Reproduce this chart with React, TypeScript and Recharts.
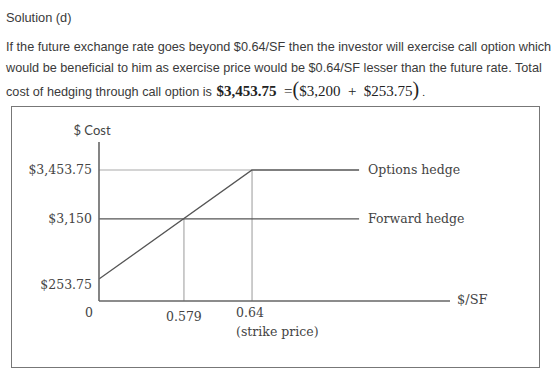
import React from 'react';
import { ComposedChart, Line, XAxis, YAxis, ReferenceLine } from 'recharts';

// exchange rate ($/SF) and cost values
const xTicks = [0, 0.579, 0.64];
const yTicks = [253.75, 3150, 3453.75];
const strikePrice = 0.64;
const breakEven = 0.579;
const premiumCost = 253.75;
const forwardCost = 3150;
const optionsCap = 3453.75;
const optionsX = [0, 0.64, 0.8];
const optionsY = [253.75, 3453.75, 3453.75];
const forwardX = [0, 0.8];
const forwardY = [3150, 3150];

const optionsData = optionsX.map((x, i) => ({ x, y: optionsY[i] }));
const forwardData = forwardX.map((x, i) => ({ x, y: forwardY[i] }));

// the sketch is not drawn to scale, so both axes use a piecewise linear scale
function piecewiseScale(knots: [number, number][]) {
  let dom = [knots[0][0], knots[knots.length - 1][0]];
  let rng = [0, 1];
  const s: any = (v: number) => {
    let f = 0;
    if (v <= knots[0][0]) f = knots[0][1];
    else if (v >= knots[knots.length - 1][0]) f = knots[knots.length - 1][1];
    else {
      for (let i = 1; i < knots.length; i++) {
        const [v0, f0] = knots[i - 1];
        const [v1, f1] = knots[i];
        if (v <= v1) {
          f = f0 + ((v - v0) / (v1 - v0)) * (f1 - f0);
          break;
        }
      }
    }
    return rng[0] + f * (rng[1] - rng[0]);
  };
  s.domain = (d?: number[]) => {
    if (d === undefined) return dom;
    dom = [...d];
    return s;
  };
  s.range = (r?: number[]) => {
    if (r === undefined) return rng;
    rng = [...r];
    return s;
  };
  s.copy = () => piecewiseScale(knots).domain(dom).range(rng);
  s.ticks = () => knots.map((k) => k[0]);
  return s;
}

const xScale = piecewiseScale([[0, 0], [0.579, 0.242], [0.64, 0.436], [0.8, 0.741], [0.9, 1]]);
const yScale = piecewiseScale([[0, 0], [253.75, 0.138], [3150, 0.516], [3453.75, 0.824], [4000, 1]]);

const serif = '"DejaVu Serif", serif';
const ink = '#444';
const axisGrey = '#666';
const guideGrey = '#aaa';

function XTick(props: any) {
  const { x, y, payload } = props;
  const v = payload.value;
  if (v === 0) {
    return (
      <text x={x - 10} y={y + 16} textAnchor="middle" fontFamily={serif} fontSize={12.5} fill={ink}>
        0
      </text>
    );
  }
  if (v === strikePrice) {
    return (
      <g>
        <text x={x - 16} y={y + 16} textAnchor="start" fontFamily={serif} fontSize={12.5} fill={ink}>
          0.64
        </text>
        <text x={x - 16} y={y + 35} textAnchor="start" fontFamily={serif} fontSize={12.5} fill={ink}>
          (strike price)
        </text>
      </g>
    );
  }
  return (
    <text x={x} y={y + 20} textAnchor="middle" fontFamily={serif} fontSize={12.5} fill={ink}>
      {String(v)}
    </text>
  );
}

function YTick(props: any) {
  const { x, y, payload } = props;
  const v = payload.value;
  const label = '$' + v.toLocaleString('en-US', { maximumFractionDigits: 2 });
  const shift = v === premiumCost ? 10 : 4.5;
  return (
    <text x={x - 7} y={y + shift} textAnchor="end" fontFamily={serif} fontSize={12.5} fill={ink}>
      {label}
    </text>
  );
}

const endLabel = (text: string, last: number) => (props: any) => {
  if (props.index !== last) return null;
  return (
    <text x={props.x + 9} y={props.y + 4.5} fontFamily={serif} fontSize={12.5} fill={ink}>
      {text}
    </text>
  );
};

const textStyle: React.CSSProperties = {
  position: 'absolute',
  left: 6,
  whiteSpace: 'nowrap',
  fontFamily: '"Liberation Sans", Arial, sans-serif',
  fontSize: 12.7,
  lineHeight: '20px',
  color: '#3a3a3a',
};

export default function App() {
  return (
    <div style={{ position: 'absolute', left: 0, top: 0, width: 560, height: 384, background: '#fff' }}>
      <div style={{ ...textStyle, top: 8, fontSize: 12.8 }}>Solution (d)</div>
      <div style={{ ...textStyle, top: 37 }}>
        If the future exchange rate goes beyond $0.64/SF then the investor will exercise call option which
      </div>
      <div style={{ ...textStyle, top: 58 }}>
        would be beneficial to him as exercise price would be $0.64/SF lesser than the future rate. Total
      </div>
      <div style={{ ...textStyle, top: 79 }}>
        cost of hedging through call option is{'  '}
        <span style={{ fontFamily: '"Liberation Serif", serif', fontSize: 15, color: '#222', marginLeft: 1 }}>
          <b>$3,453.75</b>&nbsp; =<span style={{ fontSize: 20 }}>(</span>$3,200&nbsp; + &nbsp;$253.75
          <span style={{ fontSize: 20 }}>)</span>
          <span style={{ fontSize: 11, marginLeft: 3 }}>.</span>
        </span>
      </div>
      <div
        style={{
          position: 'absolute',
          left: 11,
          top: 106,
          width: 529,
          height: 262,
          boxSizing: 'border-box',
          border: '1.5px solid #777',
        }}
      />
      <div style={{ position: 'absolute', left: 0, top: 0 }}>
        <ComposedChart width={560} height={384} margin={{ top: 142, right: 110, bottom: 53, left: 0 }}>
          <XAxis
            dataKey="x"
            type="number"
            domain={[0, 0.9]}
            scale={xScale}
            ticks={xTicks}
            interval={0}
            tick={<XTick />}
            tickLine={false}
            tickSize={0}
            tickMargin={0}
            height={30}
            axisLine={{ stroke: axisGrey, strokeWidth: 1.6 }}
            allowDataOverflow
            label={{
              content: (p: any) => (
                <text
                  x={p.viewBox.x + p.viewBox.width + 7}
                  y={p.viewBox.y + 3}
                  fontFamily={serif}
                  fontSize={13}
                  fill={ink}
                >
                  $/SF
                </text>
              ),
            }}
          />
          <YAxis
            type="number"
            domain={[0, 4000]}
            scale={yScale}
            ticks={yTicks}
            interval={0}
            tick={<YTick />}
            tickLine={false}
            tickSize={0}
            tickMargin={0}
            width={99}
            axisLine={{ stroke: axisGrey, strokeWidth: 1.6 }}
            allowDataOverflow
            label={{
              content: (p: any) => (
                <text
                  x={p.viewBox.x + p.viewBox.width - 7}
                  y={p.viewBox.y - 7}
                  textAnchor="middle"
                  fontFamily='Lato, "DejaVu Sans", sans-serif'
                  fontSize={13}
                  fill={ink}
                >
                  $ Cost
                </text>
              ),
            }}
          />
          <ReferenceLine
            segment={[{ x: 0, y: optionsCap }, { x: strikePrice, y: optionsCap }]}
            stroke={guideGrey}
            strokeWidth={1.2}
          />
          <ReferenceLine
            segment={[{ x: breakEven, y: 0 }, { x: breakEven, y: forwardCost }]}
            stroke={guideGrey}
            strokeWidth={1.2}
          />
          <ReferenceLine
            segment={[{ x: strikePrice, y: 0 }, { x: strikePrice, y: optionsCap }]}
            stroke={guideGrey}
            strokeWidth={1.2}
          />
          <Line
            data={forwardData}
            dataKey="y"
            stroke="#555"
            strokeWidth={1.3}
            dot={false}
            isAnimationActive={false}
            label={endLabel('Forward hedge', forwardData.length - 1)}
          />
          <Line
            data={optionsData}
            dataKey="y"
            stroke="#555"
            strokeWidth={1.3}
            dot={false}
            isAnimationActive={false}
            label={endLabel('Options hedge', optionsData.length - 1)}
          />
        </ComposedChart>
      </div>
    </div>
  );
}
